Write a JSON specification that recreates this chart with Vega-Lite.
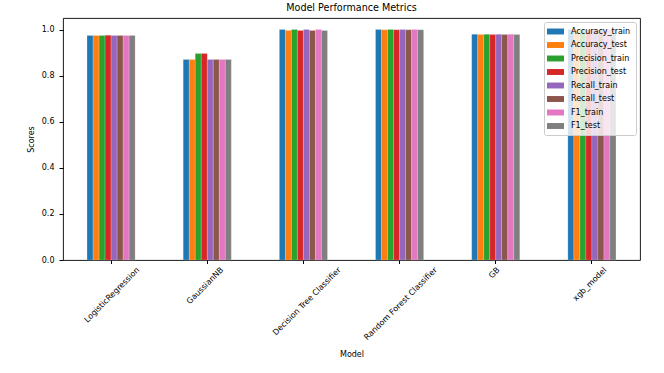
{
  "$schema": "https://vega.github.io/schema/vega-lite/v6.json",
  "autosize": {"type": "none"},
  "width": 577,
  "height": 242,
  "padding": {"left": 63, "top": 18, "right": 24, "bottom": 113},
  "background": "white",
  "title": {"text": "Model Performance Metrics", "fontSize": 9.6, "fontWeight": "normal", "font": "DejaVu Sans", "color": "#000", "offset": 5},
  "config": {
    "font": "DejaVu Sans",
    "view": {"stroke": "#000", "strokeWidth": 0.9},
    "axis": {"labelFont": "DejaVu Sans", "titleFont": "DejaVu Sans", "labelFontSize": 8, "titleFontSize": 8, "titleFontWeight": "normal", "labelColor": "#000", "titleColor": "#000", "tickColor": "#000", "domainColor": "#000", "tickSize": 3.5, "grid": false}
  },
  "data": {"values": [
    {"Model": "LogisticRegression", "Metric": "Accuracy_train", "Score": 0.974},
    {"Model": "LogisticRegression", "Metric": "Accuracy_test", "Score": 0.974},
    {"Model": "LogisticRegression", "Metric": "Precision_train", "Score": 0.974},
    {"Model": "LogisticRegression", "Metric": "Precision_test", "Score": 0.975},
    {"Model": "LogisticRegression", "Metric": "Recall_train", "Score": 0.974},
    {"Model": "LogisticRegression", "Metric": "Recall_test", "Score": 0.974},
    {"Model": "LogisticRegression", "Metric": "F1_train", "Score": 0.974},
    {"Model": "LogisticRegression", "Metric": "F1_test", "Score": 0.974},
    {"Model": "GaussianNB", "Metric": "Accuracy_train", "Score": 0.870},
    {"Model": "GaussianNB", "Metric": "Accuracy_test", "Score": 0.870},
    {"Model": "GaussianNB", "Metric": "Precision_train", "Score": 0.896},
    {"Model": "GaussianNB", "Metric": "Precision_test", "Score": 0.896},
    {"Model": "GaussianNB", "Metric": "Recall_train", "Score": 0.870},
    {"Model": "GaussianNB", "Metric": "Recall_test", "Score": 0.870},
    {"Model": "GaussianNB", "Metric": "F1_train", "Score": 0.870},
    {"Model": "GaussianNB", "Metric": "F1_test", "Score": 0.870},
    {"Model": "Decision Tree Classifier", "Metric": "Accuracy_train", "Score": 1.0},
    {"Model": "Decision Tree Classifier", "Metric": "Accuracy_test", "Score": 0.996},
    {"Model": "Decision Tree Classifier", "Metric": "Precision_train", "Score": 1.0},
    {"Model": "Decision Tree Classifier", "Metric": "Precision_test", "Score": 0.996},
    {"Model": "Decision Tree Classifier", "Metric": "Recall_train", "Score": 1.0},
    {"Model": "Decision Tree Classifier", "Metric": "Recall_test", "Score": 0.996},
    {"Model": "Decision Tree Classifier", "Metric": "F1_train", "Score": 1.0},
    {"Model": "Decision Tree Classifier", "Metric": "F1_test", "Score": 0.996},
    {"Model": "Random Forest Classifier", "Metric": "Accuracy_train", "Score": 1.0},
    {"Model": "Random Forest Classifier", "Metric": "Accuracy_test", "Score": 0.999},
    {"Model": "Random Forest Classifier", "Metric": "Precision_train", "Score": 1.0},
    {"Model": "Random Forest Classifier", "Metric": "Precision_test", "Score": 0.999},
    {"Model": "Random Forest Classifier", "Metric": "Recall_train", "Score": 1.0},
    {"Model": "Random Forest Classifier", "Metric": "Recall_test", "Score": 0.999},
    {"Model": "Random Forest Classifier", "Metric": "F1_train", "Score": 1.0},
    {"Model": "Random Forest Classifier", "Metric": "F1_test", "Score": 0.999},
    {"Model": "GB", "Metric": "Accuracy_train", "Score": 0.979},
    {"Model": "GB", "Metric": "Accuracy_test", "Score": 0.978},
    {"Model": "GB", "Metric": "Precision_train", "Score": 0.979},
    {"Model": "GB", "Metric": "Precision_test", "Score": 0.978},
    {"Model": "GB", "Metric": "Recall_train", "Score": 0.979},
    {"Model": "GB", "Metric": "Recall_test", "Score": 0.978},
    {"Model": "GB", "Metric": "F1_train", "Score": 0.979},
    {"Model": "GB", "Metric": "F1_test", "Score": 0.978},
    {"Model": "xgb_model", "Metric": "Accuracy_train", "Score": 1.0},
    {"Model": "xgb_model", "Metric": "Accuracy_test", "Score": 0.998},
    {"Model": "xgb_model", "Metric": "Precision_train", "Score": 1.0},
    {"Model": "xgb_model", "Metric": "Precision_test", "Score": 0.998},
    {"Model": "xgb_model", "Metric": "Recall_train", "Score": 1.0},
    {"Model": "xgb_model", "Metric": "Recall_test", "Score": 0.998},
    {"Model": "xgb_model", "Metric": "F1_train", "Score": 1.0},
    {"Model": "xgb_model", "Metric": "F1_test", "Score": 0.998}
  ]},
  "mark": {"type": "bar", "stroke": "white", "strokeOpacity": 0.35, "strokeWidth": 0.5},
  "encoding": {
    "x": {
      "field": "Model", "type": "nominal",
      "sort": ["LogisticRegression", "GaussianNB", "Decision Tree Classifier", "Random Forest Classifier", "GB", "xgb_model"],
      "scale": {"paddingInner": 0.5, "paddingOuter": 0.25},
      "axis": {
        "title": "Model", "labelAngle": -45, "labelAlign": "right", "labelBaseline": "middle",
        "labelPadding": 5, "titlePadding": 9, "domain": false,
        "labelOffset": {"expr": "length(datum.label) * 1.52"}
      }
    },
    "xOffset": {
      "field": "Metric", "type": "nominal",
      "sort": ["Accuracy_train", "Accuracy_test", "Precision_train", "Precision_test", "Recall_train", "Recall_test", "F1_train", "F1_test"],
      "scale": {"paddingInner": 0, "paddingOuter": 0}
    },
    "y": {
      "field": "Score", "type": "quantitative",
      "scale": {"domain": [0, 1.05], "nice": false},
      "axis": {"title": "Scores", "values": [0, 0.2, 0.4, 0.6, 0.8, 1.0], "format": ".1f", "labelPadding": 5, "titlePadding": 6, "domain": false, "tickSize": 4}
    },
    "color": {
      "field": "Metric", "type": "nominal",
      "sort": ["Accuracy_train", "Accuracy_test", "Precision_train", "Precision_test", "Recall_train", "Recall_test", "F1_train", "F1_test"],
      "scale": {"range": ["#1f77b4", "#ff7f0e", "#2ca02c", "#d62728", "#9467bd", "#8c564b", "#e377c2", "#7f7f7f"]},
      "legend": {
        "title": null, "orient": "top-right", "offset": 4, "padding": 5,
        "fillColor": "rgba(255,255,255,0.8)", "strokeColor": "#cccccc", "cornerRadius": 2,
        "symbolType": "M-2,-0.7H2V0.7H-2Z", "symbolSize": 72, "symbolStrokeWidth": 0, "symbolOpacity": 1,
        "symbolOffset": 2,
        "labelFont": "DejaVu Sans", "labelFontSize": 8, "labelColor": "#000", "labelOffset": 11, "rowPadding": 4.5
      }
    }
  }
}
